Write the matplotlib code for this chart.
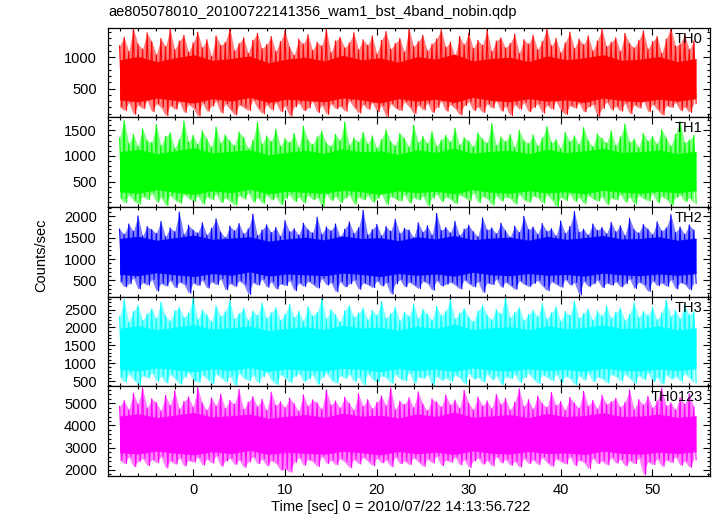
import matplotlib
matplotlib.use("Agg")
import matplotlib.pyplot as plt
from matplotlib.ticker import MultipleLocator
import numpy as np

plt.rcParams['font.family'] = ['Liberation Sans', 'DejaVu Sans']
plt.rcParams['font.size'] = 10.5

title = "ae805078010_20100722141356_wam1_bst_4band_nobin.qdp"
x_label = "Time [sec] 0 = 2010/07/22 14:13:56.722"
y_label = "Counts/sec"

t_start = -8.0
t_step = 0.5

bands = ["TH0", "TH1", "TH2", "TH3", "TH0123"]
colors = ["#ff0000", "#00ff00", "#0000ff", "#00ffff", "#ff00ff"]

th0_hi = [1180, 1320, 1090, 1460, 1210, 1130, 1390, 1250, 1040, 1300, 1170, 1450, 1120, 1260, 1350, 1080, 1230, 1400,
          1150, 1280, 1010, 1340, 1190, 1240, 1470, 1100, 1220, 1310, 1060, 1270, 1380, 1140, 1200, 1330, 1090, 1250,
          1420, 1160, 1030, 1290, 1210, 1360, 1110, 1240, 1180, 1450, 1070, 1260, 1320, 1150, 1230, 1390, 1120, 1280,
          1190, 1340, 1050, 1270, 1410, 1130, 1220, 1300, 1080, 1460, 1170, 1250, 1350, 1100, 1210, 1290, 1440, 1160,
          1240, 1020, 1330, 1200, 1380, 1140, 1270, 1190, 1430, 1090, 1260, 1310, 1150, 1220, 1370, 1060, 1280, 1210,
          1350, 1120, 1250, 1460, 1180, 1300, 1070, 1230, 1400, 1140, 1290, 1200, 1340, 1100, 1260, 1450, 1170, 1240,
          1310, 1090, 1380, 1220, 1150, 1270, 1420, 1130, 1250, 1330, 1060, 1290, 1470, 1180, 1210, 1360, 1120, 1260]
th0_lo = [210, 150, 280, 90, 240, 180, 310, 130, 260, 200, 70, 230, 170, 290, 120, 250, 190, 60,
          270, 140, 220, 300, 110, 260, 170, 80, 240, 200, 150, 320, 190, 100, 250, 160, 280, 130,
          230, 60, 210, 270, 150, 190, 300, 120, 240, 90, 260, 180, 220, 140, 310, 200, 110, 250,
          170, 280, 130, 230, 50, 260, 190, 150, 290, 210, 100, 240, 160, 270, 120, 200, 300, 140,
          250, 180, 80, 230, 290, 150, 210, 120, 260, 190, 310, 140, 220, 70, 250, 170, 280, 130,
          200, 260, 110, 240, 170, 300, 150, 90, 230, 190, 270, 130, 210, 250, 60, 180, 290, 160,
          220, 140, 270, 100, 240, 190, 310, 130, 250, 170, 80, 230, 200, 280, 150, 210, 120, 260]

th1_hi = [1350, 1690, 1240, 1420, 1180, 1530, 1300, 1260, 1610, 1200, 1380, 1450, 1150, 1320, 1680, 1270, 1400, 1220,
          1490, 1330, 1170, 1560, 1250, 1410, 1290, 1200, 1470, 1360, 1140, 1300, 1650, 1230, 1390, 1280, 1520, 1190,
          1340, 1260, 1440, 1160, 1580, 1310, 1220, 1370, 1480, 1250, 1190, 1420, 1300, 1660, 1210, 1350, 1270, 1460,
          1230, 1390, 1150, 1320, 1510, 1280, 1200, 1440, 1340, 1170, 1600, 1260, 1380, 1240, 1470, 1190, 1310, 1400,
          1270, 1540, 1210, 1360, 1290, 1180, 1450, 1330, 1250, 1630, 1200, 1370, 1280, 1420, 1160, 1500, 1300, 1240,
          1410, 1190, 1350, 1570, 1260, 1320, 1140, 1460, 1280, 1390, 1220, 1550, 1300, 1180, 1430, 1340, 1250, 1490,
          1200, 1370, 1620, 1270, 1330, 1160, 1440, 1290, 1380, 1230, 1510, 1350, 1190, 1420, 1670, 1260, 1310, 1400]
th1_lo = [180, 90, 240, 130, 60, 210, 150, 270, 100, 190, 30, 230, 140, 80, 250, 170, 110, 220,
          60, 200, 150, 260, 90, 180, 120, 40, 230, 160, 280, 100, 190, 70, 240, 140, 210, 50,
          170, 250, 110, 200, 80, 230, 150, 190, 20, 260, 130, 210, 90, 180, 240, 60, 200, 140,
          230, 100, 170, 270, 50, 210, 160, 120, 250, 80, 190, 140, 220, 30, 180, 260, 110, 200,
          150, 70, 240, 190, 130, 280, 90, 210, 160, 40, 230, 120, 200, 170, 60, 250, 140, 100,
          220, 180, 80, 240, 150, 10, 200, 130, 260, 110, 190, 70, 230, 160, 120, 210, 50, 180,
          140, 250, 100, 200, 60, 230, 170, 120, 270, 90, 210, 150, 40, 190, 240, 110, 180, 80]

th2_hi = [1700, 1580, 1820, 1650, 2010, 1540, 1760, 1690, 1600, 1880, 1520, 1730, 1640, 2100, 1570, 1790, 1680, 1610,
          1850, 1560, 1720, 1940, 1630, 1500, 1770, 1660, 1830, 1590, 1710, 2050, 1550, 1680, 1800, 1620, 1740, 1530,
          1900, 1640, 1710, 1560, 1840, 1690, 1610, 1980, 1580, 1750, 1660, 1820, 1520, 1700, 1870, 1600, 1730, 2140,
          1570, 1690, 1810, 1540, 1760, 1650, 1930, 1600, 1720, 1680, 1500, 1850, 1630, 1780, 1560, 2070, 1670, 1740,
          1610, 1880, 1550, 1700, 1790, 1640, 1520, 1960, 1680, 1730, 1590, 1840, 1660, 1510, 1770, 1620, 2000, 1690,
          1750, 1580, 1830, 1650, 1710, 1540, 1890, 1600, 1760, 2110, 1630, 1700, 1560, 1820, 1670, 1740, 1590, 1860,
          1640, 1780, 1550, 1950, 1690, 1610, 1810, 1700, 1570, 1870, 1660, 1730, 2040, 1620, 1750, 1580, 1800, 1680]
th2_lo = [480, 350, 420, 560, 300, 450, 390, 520, 250, 430, 370, 500, 330, 460, 410, 200, 440, 380,
          510, 320, 470, 400, 540, 280, 430, 360, 490, 410, 170, 450, 390, 530, 340, 470, 300, 420,
          380, 500, 260, 440, 360, 480, 410, 320, 550, 390, 450, 230, 470, 350, 420, 510, 290, 440,
          400, 330, 490, 370, 450, 180, 420, 520, 350, 460, 390, 310, 480, 430, 270, 500, 370, 410,
          460, 390, 300, 510, 420, 350, 480, 220, 440, 400, 530, 340, 460, 380, 290, 490, 410, 360,
          430, 500, 370, 260, 470, 410, 340, 520, 390, 450, 160, 480, 360, 420, 510, 330, 440, 390,
          470, 350, 420, 540, 310, 460, 400, 240, 490, 380, 440, 360, 520, 300, 450, 410, 280, 430]

th3_hi = [2300, 2780, 2150, 2450, 2620, 2200, 2380, 2520, 2250, 2700, 2330, 2180, 2470, 2560, 2280, 2400, 2810, 2220,
          2490, 2350, 2160, 2600, 2310, 2440, 2750, 2240, 2390, 2530, 2190, 2460, 2330, 2680, 2260, 2410, 2550, 2200,
          2370, 2640, 2280, 2450, 2170, 2580, 2320, 2420, 2790, 2230, 2500, 2350, 2150, 2470, 2610, 2290, 2400, 2540,
          2210, 2480, 2340, 2720, 2260, 2390, 2560, 2180, 2430, 2310, 2650, 2250, 2510, 2370, 2200, 2590, 2330, 2450,
          2770, 2240, 2400, 2530, 2290, 2160, 2460, 2620, 2350, 2210, 2500, 2380, 2830, 2270, 2420, 2550, 2190, 2360,
          2480, 2300, 2660, 2230, 2410, 2570, 2170, 2440, 2340, 2730, 2260, 2390, 2510, 2200, 2460, 2320, 2600, 2250,
          2420, 2540, 2190, 2370, 2690, 2280, 2450, 2330, 2560, 2210, 2400, 2760, 2300, 2480, 2240, 2630, 2350, 2440]
th3_lo = [620, 480, 710, 550, 400, 660, 590, 730, 500, 640, 450, 690, 570, 420, 610, 740, 530, 470,
          680, 560, 430, 700, 600, 490, 650, 390, 720, 580, 520, 670, 460, 630, 750, 540, 410, 690,
          590, 470, 640, 710, 500, 560, 680, 420, 610, 730, 530, 450, 660, 580, 700, 490, 620, 400,
          710, 550, 480, 650, 600, 440, 690, 570, 510, 740, 460, 620, 580, 680, 390, 640, 530, 600,
          500, 670, 590, 430, 720, 560, 610, 480, 700, 540, 650, 410, 630, 570, 690, 470, 600, 720,
          560, 440, 680, 610, 520, 700, 470, 640, 580, 400, 660, 530, 720, 490, 620, 570, 450, 690,
          630, 510, 700, 580, 450, 660, 540, 730, 490, 610, 420, 680, 560, 640, 500, 710, 590, 460]

th0123_hi = [4850, 5120, 4700, 5450, 4960, 5680, 4780, 5200, 5030, 4650, 5350, 4900, 5560, 4740, 5080, 5290, 4820, 5700,
             5010, 4690, 5240, 4880, 5410, 4760, 5130, 4950, 5620, 4720, 5060, 5300, 4840, 5180, 4670, 5500, 4910, 5070,
             4800, 5230, 4980, 4640, 5380, 4870, 5150, 5020, 4730, 5600, 4920, 5100, 4790, 5270, 4990, 4680, 5430, 4860,
             5170, 4750, 5040, 5330, 4890, 5690, 4710, 5090, 4940, 5250, 4800, 5510, 4970, 4660, 5190, 5060, 4830, 5370,
             4920, 5140, 4770, 5580, 5000, 4700, 5280, 4880, 5110, 4760, 5400, 4950, 5210, 4690, 5050, 5650, 4850, 5160,
             4730, 5320, 4990, 4810, 5480, 4900, 5080, 4670, 5260, 5010, 4780, 5530, 4870, 5130, 4740, 5360, 4960, 5070,
             5220, 4820, 5040, 5590, 4710, 5170, 4930, 5310, 4790, 5100, 5670, 4880, 5020, 4700, 5250, 4960, 5420, 4840]
th0123_lo = [2450, 2280, 2600, 2150, 2380, 2520, 2200, 2470, 2330, 2610, 2090, 2410, 2260, 2550, 2180, 2430, 2350, 2580,
             2220, 2490, 2310, 2640, 2170, 2400, 2530, 2250, 2450, 2120, 2360, 2590, 2280, 2500, 2190, 2420, 2300, 1990,
             2050, 1900, 2340, 2560, 2210, 2470, 2380, 2150, 2620, 2290, 2440, 2230, 2510, 2360, 2100, 2480, 2270, 2570,
             2400, 2190, 2530, 2320, 2460, 2140, 2590, 2280, 2410, 2240, 2550, 2370, 2160, 2490, 2310, 2630, 2200, 2440,
             2350, 2580, 2230, 2470, 2110, 2400, 2540, 2260, 2430, 2180, 2600, 2320, 2480, 2210, 2390, 2130, 2520, 2290,
             2460, 2240, 2570, 2330, 2170, 2500, 2380, 2270, 2610, 2200, 2440, 2350, 2060, 2530, 2290, 2410, 2230, 2560,
             2310, 2480, 2190, 2420, 2280, 2550, 1780, 2370, 2240, 2500, 2160, 2450, 2330, 2590, 2210, 2400, 2120, 2460]

# edges of the densely filled part of each band, about every 2 s
th0_core_hi = [960, 1010, 930, 990, 1040, 950, 980, 1020, 910, 970, 1000, 940, 1030, 960, 990, 920,
               1010, 970, 1050, 940, 980, 1000, 930, 1020, 960, 990, 1040, 950, 970, 1010, 930, 980]
th0_core_lo = [320, 290, 350, 310, 270, 340, 300, 360, 280, 330, 310, 290, 350, 320, 270, 340,
               300, 330, 280, 360, 310, 290, 340, 300, 320, 280, 350, 310, 290, 330, 300, 340]
th1_core_hi = [1080, 1130, 1040, 1100, 1160, 1060, 1090, 1120, 1020, 1070, 1110, 1050, 1140, 1080, 1100, 1030,
               1120, 1070, 1150, 1050, 1090, 1110, 1040, 1130, 1060, 1100, 1150, 1070, 1080, 1120, 1040, 1090]
th1_core_lo = [300, 270, 340, 290, 250, 320, 280, 350, 260, 310, 290, 270, 330, 300, 250, 320,
               280, 310, 260, 340, 290, 270, 320, 280, 300, 260, 330, 290, 270, 310, 280, 320]
th2_core_hi = [1480, 1530, 1440, 1500, 1560, 1460, 1490, 1520, 1420, 1470, 1510, 1450, 1540, 1480, 1500, 1430,
               1520, 1470, 1550, 1450, 1490, 1510, 1440, 1530, 1460, 1500, 1550, 1470, 1480, 1520, 1440, 1490]
th2_core_lo = [640, 610, 680, 630, 590, 660, 620, 700, 600, 650, 630, 610, 670, 640, 590, 660,
               620, 650, 600, 690, 630, 610, 660, 620, 640, 600, 670, 630, 610, 650, 620, 660]
th3_core_hi = [1980, 2050, 1930, 2010, 2080, 1950, 1990, 2040, 1910, 1970, 2020, 1940, 2060, 1980, 2010, 1920,
               2040, 1970, 2090, 1940, 1990, 2020, 1930, 2050, 1960, 2000, 2070, 1970, 1980, 2040, 1930, 1990]
th3_core_lo = [830, 790, 870, 820, 770, 850, 800, 880, 780, 840, 810, 790, 860, 830, 770, 850,
               800, 840, 780, 870, 810, 790, 850, 800, 830, 780, 860, 810, 790, 840, 800, 850]
th0123_core_hi = [4420, 4530, 4350, 4470, 4580, 4380, 4440, 4510, 4320, 4410, 4490, 4370, 4550, 4420, 4460, 4340,
                  4520, 4400, 4600, 4370, 4430, 4490, 4350, 4540, 4390, 4450, 4570, 4400, 4420, 4510, 4360, 4440]
th0123_core_lo = [2780, 2720, 2850, 2760, 2680, 2820, 2740, 2880, 2700, 2800, 2750, 2710, 2840, 2780, 2680, 2830,
                  2730, 2800, 2700, 2860, 2750, 2720, 2830, 2740, 2770, 2700, 2850, 2750, 2710, 2800, 2740, 2820]

highs = [th0_hi, th1_hi, th2_hi, th3_hi, th0123_hi]
lows = [th0_lo, th1_lo, th2_lo, th3_lo, th0123_lo]
core_his = [th0_core_hi, th1_core_hi, th2_core_hi, th3_core_hi, th0123_core_hi]
core_los = [th0_core_lo, th1_core_lo, th2_core_lo, th3_core_lo, th0123_core_lo]

ylims = [(44, 1474), (5, 1755), (120, 2220), (360, 2860), (1730, 5760)]
y_major = [500, 500, 500, 500, 1000]
y_minor = [100, 100, 100, 100, 200]

fig = plt.figure(figsize=(7.17, 5.16), dpi=100)
axes = fig.subplots(5, 1, sharex=True, gridspec_kw=dict(hspace=0))
fig.subplots_adjust(left=108 / 717, right=710 / 717, top=1 - 27.5 / 516, bottom=1 - 476 / 516)

for i, ax in enumerate(axes):
    hi = np.array(highs[i], dtype=float)
    lo = np.array(lows[i], dtype=float)
    n = len(hi)
    t_hi = t_start + t_step * np.arange(n)
    t_lo = t_hi + t_step / 2
    t = np.empty(2 * n)
    y = np.empty(2 * n)
    t[0::2] = t_hi
    t[1::2] = t_lo
    y[0::2] = hi
    y[1::2] = lo

    # pale envelope (sparse fringe), solid dense part, then the curve itself
    ax.fill_between(t_hi, lo, hi, color=colors[i], alpha=0.5, lw=0)
    t_core = np.linspace(t[0], t[-1], len(core_his[i]))
    ax.fill_between(t_core, core_los[i], core_his[i], color=colors[i], lw=0)
    ax.plot(t, y, color=colors[i], lw=0.8)

    ax.set_ylim(*ylims[i])
    ax.yaxis.set_major_locator(MultipleLocator(y_major[i]))
    ax.yaxis.set_minor_locator(MultipleLocator(y_minor[i]))
    ax.text(0.988, 0.955, bands[i], transform=ax.transAxes, ha="right", va="top")

    ax.tick_params(which="both", direction="in", top=True, right=True, pad=8)
    ax.tick_params(which="major", length=5, width=0.8)
    ax.tick_params(which="minor", length=2.5, width=0.8)
    for s in ax.spines.values():
        s.set_linewidth(0.9)

axes[-1].set_xlim(-9.26, 56.26)
axes[-1].xaxis.set_major_locator(MultipleLocator(10))
axes[-1].xaxis.set_minor_locator(MultipleLocator(2))
axes[-1].tick_params(axis="x", pad=5)

fig.text(108 / 717, 1 - 12 / 516, title, ha="left", va="center")
fig.text(401 / 717, 1 - 507 / 516, x_label, ha="center", va="center")
fig.text(41 / 717, 1 - 255 / 516, y_label, ha="center", va="center", rotation=90)

fig.savefig("out.png", dpi=100)
